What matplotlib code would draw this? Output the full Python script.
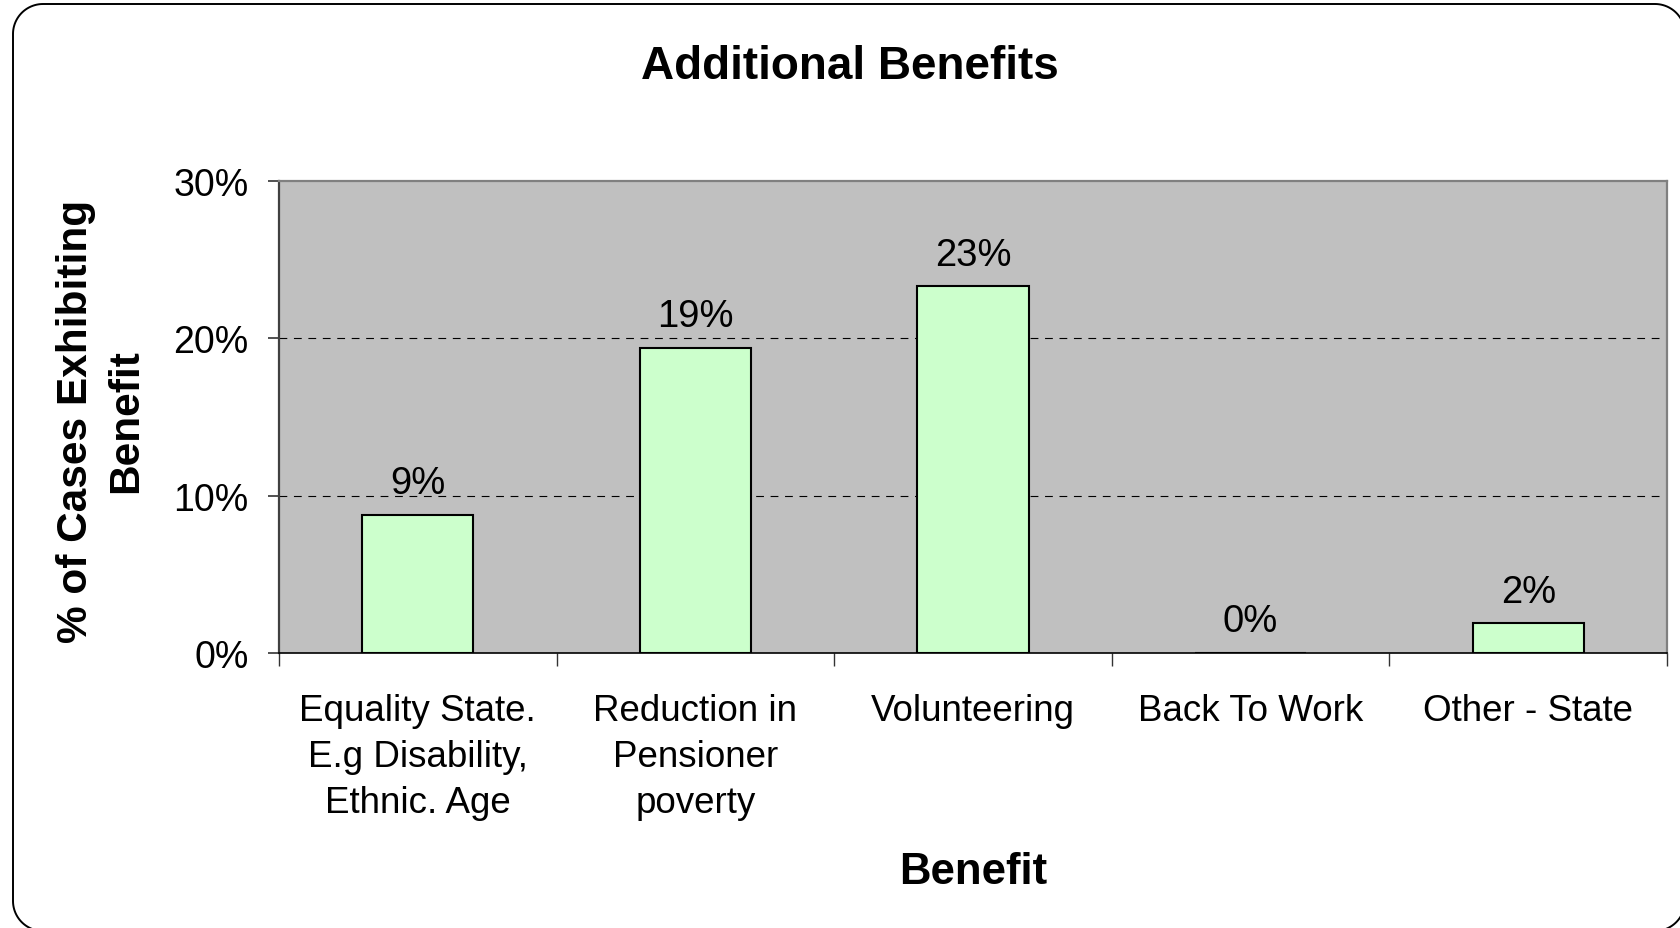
import numpy as np
import matplotlib
matplotlib.use("Agg")
import matplotlib.pyplot as plt
from matplotlib.path import Path
from matplotlib.patches import PathPatch
from matplotlib.transforms import IdentityTransform
from matplotlib.ticker import FixedLocator, NullFormatter, FixedFormatter

plt.rcParams['font.family'] = ['Liberation Sans', 'DejaVu Sans']

categories = [
    "Equality State.\nE.g Disability,\nEthnic. Age",
    "Reduction in\nPensioner\npoverty",
    "Volunteering",
    "Back To Work",
    "Other - State",
]
values = [8.8, 19.4, 23.3, 0.0, 1.9]          # percent of cases
value_labels = ["9%", "19%", "23%", "0%", "2%"]
y_ticks = [0, 10, 20, 30]
y_tick_labels = ["0%", "10%", "20%", "30%"]

W, H = 1681, 929
fig = plt.figure(figsize=(W / 100, H / 100), dpi=100)
fig.patch.set_facecolor("white")


def rounded_rect(x0, y0, x1, y1, r, n=24):
    """Closed path of a rectangle with circular corners, in pixels."""
    pts = []
    corners = [(x1 - r, y1 - r, 0), (x0 + r, y1 - r, 90),
               (x0 + r, y0 + r, 180), (x1 - r, y0 + r, 270)]
    for cx, cy, a0 in corners:
        t = np.radians(np.linspace(a0, a0 + 90, n))
        pts.extend(zip(cx + r * np.cos(t), cy + r * np.sin(t)))
    pts.append(pts[0])
    codes = [Path.MOVETO] + [Path.LINETO] * (len(pts) - 2) + [Path.CLOSEPOLY]
    return Path(pts, codes)


# rounded chart-area border (pixel coordinates, origin bottom-left)
fig.add_artist(PathPatch(rounded_rect(13, -3, 1685, 924, 30), transform=IdentityTransform(),
                         facecolor="none", edgecolor="black", linewidth=1.4))

ax = fig.add_axes([279 / W, 1 - 654 / H, (1667 - 279) / W, (654 - 182) / H])
ax.set_facecolor("#C0C0C0")

x = [i + 0.5 for i in range(len(categories))]
ax.bar(x, values, width=0.4, color="#CCFFCC", edgecolor="black", linewidth=1.5, zorder=3)

for xi, v, lab in zip(x, values, value_labels):
    ax.annotate(lab, (xi, v), xytext=(0, 15.5), textcoords="offset points",
                ha="center", va="baseline", fontsize=27.5, color="black", zorder=4)

ax.set_xlim(0, len(categories))
ax.set_ylim(0, 30)

# gridlines
for g in [10, 20]:
    ax.axhline(g, color="black", linewidth=0.8, dashes=(7, 6), zorder=1)

# y axis
ax.yaxis.set_major_locator(FixedLocator(y_ticks))
ax.yaxis.set_major_formatter(FixedFormatter(y_tick_labels))
ax.tick_params(axis="y", which="major", direction="out", length=8, width=1.2,
               color="#333333", labelsize=27, pad=14)

# x axis: ticks at category boundaries, labels centred in categories
ax.xaxis.set_major_locator(FixedLocator(range(len(categories) + 1)))
ax.xaxis.set_major_formatter(NullFormatter())
ax.xaxis.set_minor_locator(FixedLocator(x))
ax.xaxis.set_minor_formatter(FixedFormatter(categories))
ax.tick_params(axis="x", which="major", direction="out", length=9, width=1.0, color="#333333")
ax.tick_params(axis="x", which="minor", length=0, labelsize=26.5, pad=29)
for t in ax.xaxis.get_minorticklabels():
    t.set_horizontalalignment("center")
    t.set_multialignment("center")
    t.set_linespacing(1.4)

for side in ["top", "right"]:
    ax.spines[side].set_color("#808080")
    ax.spines[side].set_linewidth(1.6)
ax.spines["left"].set_color("#404040")
ax.spines["left"].set_linewidth(1.6)
ax.spines["bottom"].set_color("black")
ax.spines["bottom"].set_linewidth(1.2)

fig.text(850 / W, 1 - 79 / H, "Additional Benefits", ha="center", va="baseline",
         fontsize=33, fontweight="bold")
fig.text(973 / W, 1 - 884 / H, "Benefit", ha="center", va="baseline",
         fontsize=31.5, fontweight="bold")
fig.text(101 / W, 1 - 421 / H, "% of Cases Exhibiting\nBenefit", ha="center", va="center",
         rotation=90, fontsize=30.5, fontweight="bold", multialignment="center",
         linespacing=1.3)

fig.savefig("out.png", dpi=100)
